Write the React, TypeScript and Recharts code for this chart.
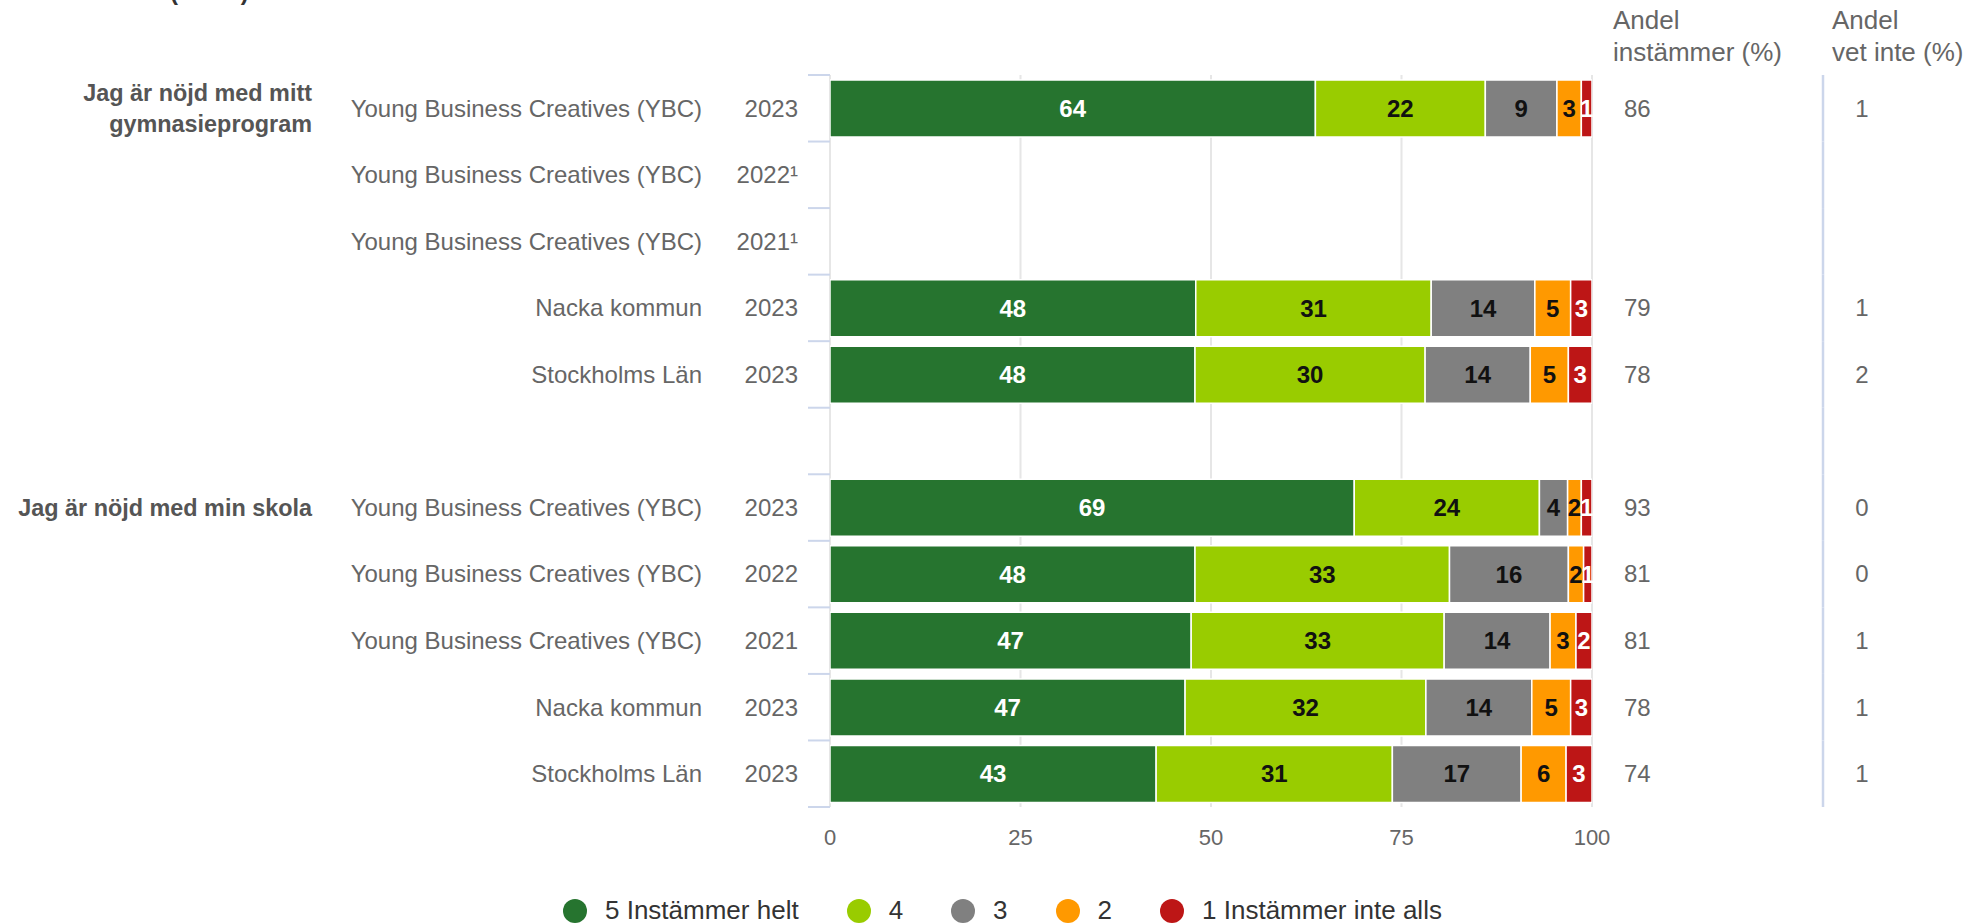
import { BarChart, Bar, XAxis, YAxis, CartesianGrid, LabelList, Legend } from "recharts";

// rows (11 bands incl. one spacer between the two statements)
const rowIds = ["r0", "r1", "r2", "r3", "r4", "gap", "r6", "r7", "r8", "r9", "r10"];
const rowGroup = [
  ["Jag är nöjd med mitt", "gymnasieprogram"], [], [], [], [], [],
  ["Jag är nöjd med min skola"], [], [], [], [],
];
const rowUnit = [
  "Young Business Creatives (YBC)", "Young Business Creatives (YBC)", "Young Business Creatives (YBC)",
  "Nacka kommun", "Stockholms Län", "",
  "Young Business Creatives (YBC)", "Young Business Creatives (YBC)", "Young Business Creatives (YBC)",
  "Nacka kommun", "Stockholms Län",
];
const rowYear = ["2023", "2022¹", "2021¹", "2023", "2023", "", "2023", "2022", "2021", "2023", "2023"];

// shares per answer (%)
const helt = [63.7, null, null, 48.0, 47.9, null, 68.8, 47.9, 47.4, 46.6, 42.8];
const fyra = [22.3, null, null, 30.9, 30.2, null, 24.3, 33.4, 33.2, 31.6, 31.0];
const tre = [9.4, null, null, 13.6, 13.8, null, 3.7, 15.6, 13.9, 13.9, 16.9];
const tva = [3.2, null, null, 4.7, 5.0, null, 1.8, 2.0, 3.4, 5.1, 5.9];
const ett = [1.4, null, null, 2.8, 3.1, null, 1.4, 1.1, 2.1, 2.8, 3.4];

const andelInstammer = [86, null, null, 79, 78, null, 93, 81, 81, 78, 74];
const andelVetInte = [1, null, null, 1, 2, null, 0, 0, 1, 1, 1];

const xTicks = [0, 25, 50, 75, 100];

const series = [
  { key: "helt", name: "5 Instämmer helt", color: "#26742f", text: "#ffffff" },
  { key: "fyra", name: "4", color: "#99cc00", text: "#111111" },
  { key: "tre", name: "3", color: "#808080", text: "#111111" },
  { key: "tva", name: "2", color: "#ff9900", text: "#111111" },
  { key: "ett", name: "1 Instämmer inte alls", color: "#bd1616", text: "#ffffff" },
];

const data = rowIds.map((id, i) => ({
  id,
  helt: helt[i],
  fyra: fyra[i],
  tre: tre[i],
  tva: tva[i],
  ett: ett[i],
}));

const W = 1973;
const H = 924;
const PLOT_LEFT = 830;
const PLOT_RIGHT = 1592;
const PLOT_TOP = 75;
const PLOT_BOTTOM = 807;
const X_AXIS_H = 40;
const BAND = (PLOT_BOTTOM - PLOT_TOP) / rowIds.length;

const FONT = "'Liberation Sans', Arial, Helvetica, sans-serif";
const GRAY = "#666666";
const AXIS_BLUE = "#ccd6eb";

function RowTick(props: any) {
  const { y, payload } = props;
  const i = rowIds.indexOf(payload.value);
  const top = y - BAND / 2;
  const bottom = y + BAND / 2;
  const group = rowGroup[i];
  return (
    <g fontFamily={FONT}>
      <line x1={PLOT_LEFT - 22} x2={PLOT_LEFT} y1={top} y2={top} stroke={AXIS_BLUE} strokeWidth={2} />
      {i === rowIds.length - 1 && (
        <line x1={PLOT_LEFT - 22} x2={PLOT_LEFT} y1={bottom} y2={bottom} stroke={AXIS_BLUE} strokeWidth={2} />
      )}
      {group.map((line, k) => (
        <text
          key={k}
          x={PLOT_LEFT - 518}
          y={y + (k - (group.length - 1) / 2) * 31}
          dy="0.35em"
          textAnchor="end"
          fontSize={23.4}
          fontWeight="bold"
          fill="#555555"
        >
          {line}
        </text>
      ))}
      <text x={PLOT_LEFT - 128} y={y} dy="0.35em" textAnchor="end" fontSize={24} fill={GRAY}>
        {rowUnit[i]}
      </text>
      <text x={PLOT_LEFT - 32} y={y} dy="0.35em" textAnchor="end" fontSize={24} fill={GRAY}>
        {rowYear[i]}
      </text>
      {andelInstammer[i] != null && (
        <text x={PLOT_RIGHT + 32} y={y} dy="0.35em" fontSize={24} fill={GRAY}>
          {andelInstammer[i]}
        </text>
      )}
      <line x1={PLOT_RIGHT + 231} x2={PLOT_RIGHT + 231} y1={top} y2={bottom} stroke={AXIS_BLUE} strokeWidth={2.5} />
      {andelVetInte[i] != null && (
        <text x={PLOT_RIGHT + 270} y={y} dy="0.35em" textAnchor="middle" fontSize={24} fill={GRAY}>
          {andelVetInte[i]}
        </text>
      )}
    </g>
  );
}

function SegmentLabel(color: string) {
  return (props: any) => {
    const { x, y, width, height, value } = props;
    if (value == null) return null;
    return (
      <text
        x={x + width / 2}
        y={y + height / 2}
        dy="0.35em"
        textAnchor="middle"
        fontFamily={FONT}
        fontSize={24}
        fontWeight="bold"
        fill={color}
      >
        {Math.round(value)}
      </text>
    );
  };
}

function LegendContent() {
  return (
    <div
      style={{
        display: "flex",
        justifyContent: "flex-start",
        alignItems: "center",
        paddingLeft: 563,
        fontFamily: FONT,
        fontSize: 26,
        color: "#333333",
      }}
    >
      {series.map((s, i) => (
        <div
          key={s.key}
          style={{ display: "flex", alignItems: "center", marginRight: i === series.length - 1 ? 0 : 48 }}
        >
          <span
            style={{
              display: "inline-block",
              width: 24,
              height: 24,
              borderRadius: 12,
              background: s.color,
              marginRight: 18,
            }}
          />
          <span>{s.name}</span>
        </div>
      ))}
    </div>
  );
}

export default function App() {
  return (
    <div style={{ position: "absolute", left: 0, top: 0, width: W, height: H, background: "#fff" }}>
      <div
        style={{
          position: "absolute",
          left: 170,
          top: -22,
          fontFamily: FONT,
          fontSize: 24,
          lineHeight: "28px",
          fontWeight: "bold",
          color: "#333",
        }}
      >
        (andel)
      </div>
      <div
        style={{
          position: "absolute",
          left: PLOT_RIGHT + 21,
          top: 4,
          fontFamily: FONT,
          fontSize: 26,
          lineHeight: "32px",
          color: GRAY,
        }}
      >
        Andel
        <br />
        instämmer (%)
      </div>
      <div
        style={{
          position: "absolute",
          left: PLOT_RIGHT + 240,
          top: 4,
          fontFamily: FONT,
          fontSize: 26,
          lineHeight: "32px",
          color: GRAY,
        }}
      >
        Andel
        <br />
        vet inte (%)
      </div>

      <BarChart
        width={W}
        height={H}
        data={data}
        layout="vertical"
        margin={{ top: PLOT_TOP, right: W - PLOT_RIGHT, left: 0, bottom: H - PLOT_BOTTOM - X_AXIS_H }}
        barSize={57}
      >
        <CartesianGrid horizontal={false} stroke="#e6e6e6" strokeWidth={2} />
        <XAxis
          type="number"
          domain={[0, 100]}
          ticks={xTicks}
          allowDataOverflow
          axisLine={false}
          tickLine={false}
          tickMargin={16}
          height={X_AXIS_H}
          tick={{ fill: GRAY, fontSize: 22, fontFamily: FONT }}
        />
        <YAxis
          type="category"
          dataKey="id"
          width={PLOT_LEFT}
          interval={0}
          axisLine={false}
          tickLine={false}
          tick={<RowTick />}
        />
        <Legend
          verticalAlign="middle"
          align="center"
          content={<LegendContent />}
          wrapperStyle={{ top: 895, left: 0, width: W, height: 32 }}
        />
        {series.map((s) => (
          <Bar
            key={s.key}
            dataKey={s.key}
            name={s.name}
            stackId="a"
            fill={s.color}
            stroke="#ffffff"
            strokeWidth={1.5}
            isAnimationActive={false}
          >
            <LabelList dataKey={s.key} content={SegmentLabel(s.text)} />
          </Bar>
        ))}
      </BarChart>
    </div>
  );
}
